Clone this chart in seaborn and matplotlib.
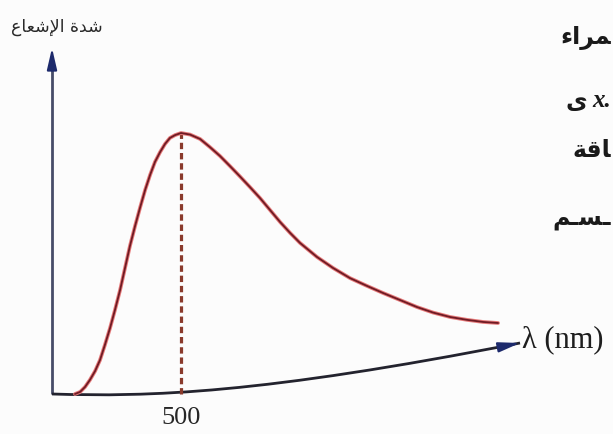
import numpy as np
import pandas as pd
import seaborn as sns
import matplotlib
matplotlib.use("Agg")
import matplotlib.pyplot as plt
import matplotlib.patheffects as pe
from matplotlib.path import Path
from matplotlib.patches import PathPatch

# Spectral intensity of the emitted radiation (wavelength in nm, relative intensity)
wavelength_nm = [89, 109, 128, 147, 167, 186, 205, 225, 244, 264, 283, 302, 322, 341,
                 361, 380, 399, 419, 438, 457, 477, 500,
                 535, 574, 612, 651, 690, 729, 767, 806, 845, 884, 923, 961,
                 1027, 1089, 1155, 1221, 1283, 1349, 1415, 1477, 1543, 1609, 1671, 1729]
intensity = [0.0, 0.008, 0.027, 0.054, 0.088, 0.130, 0.188, 0.253, 0.322, 0.399, 0.483,
             0.567, 0.644, 0.713, 0.782, 0.839, 0.889, 0.927, 0.958, 0.981, 0.992, 1.0,
             0.994, 0.977, 0.946, 0.912, 0.873, 0.833, 0.793, 0.751, 0.705, 0.659, 0.617,
             0.579, 0.525, 0.483, 0.444, 0.414, 0.387, 0.360, 0.333, 0.312, 0.295, 0.284,
             0.276, 0.272]

peak_nm = 500
peak_intensity = 1.0

y_label = "ﻉﺎﻌﺷﻹﺍ ﺓﺪﺷ"          # شدة الإشعاع
x_label = "λ (nm)"
side_lines = ["ﺀﺍﺮﻤ", "ﻯ", "ﺔﻗﺎ", "ﻢـﺴـ"]

sns.set_theme(style="white")
plt.rcParams["font.family"] = ["DejaVu Sans"]

fig = plt.figure(figsize=(6.13, 4.34), dpi=100)
fig.patch.set_facecolor("#fcfcfc")
ax = fig.add_axes([0, 0, 1, 1])
ax.set_facecolor("#fcfcfc")
ax.set_xlim(-201.6, 2174.4)
ax.set_ylim(-0.1533, 1.5096)
ax.axis("off")

df = pd.DataFrame({"wavelength": wavelength_nm, "intensity": intensity})

# vertical (intensity) axis
navy = "#1d2a6c"
ax.plot([0, 0], [0, 1.26], color="#474c68", lw=2.0, solid_capstyle="butt", zorder=2)
ax.annotate("", xy=(0, 1.326), xytext=(0, 1.24),
            arrowprops=dict(arrowstyle="-|>,head_length=1.3,head_width=0.3",
                            color=navy, lw=1.5, mutation_scale=10, shrinkA=0, shrinkB=0),
            zorder=3)

# curved wavelength axis drawn as a cubic Bezier
bez = np.array([[0.0, 0.0], [379.8, -0.0115], [806.2, 0.0], [1814.0, 0.1954]])
axis_path = Path(bez, [Path.MOVETO, Path.CURVE4, Path.CURVE4, Path.CURVE4])
ax.add_patch(PathPatch(axis_path, fill=False, edgecolor="#23232e", lw=2.0, zorder=2))


def bezier_point(t):
    c = [(1 - t) ** 3, 3 * (1 - t) ** 2 * t, 3 * (1 - t) * t ** 2, t ** 3]
    return sum(ci * p for ci, p in zip(c, bez))


head_base = bezier_point(0.975)
ax.annotate("", xy=tuple(bez[-1]), xytext=tuple(head_base),
            arrowprops=dict(arrowstyle="-|>,head_length=1.3,head_width=0.3",
                            color=navy, lw=1.5, mutation_scale=10, shrinkA=0, shrinkB=0),
            zorder=3)

# intensity curve
sns.lineplot(data=df, x="wavelength", y="intensity", ax=ax, color="#6f1b24",
             lw=1.3, sort=False, zorder=4)
line = ax.lines[-1]
line.set_path_effects([pe.Stroke(linewidth=2.7, foreground="#e67a7a"), pe.Normal()])
line.set_solid_capstyle("round")
line.set_solid_joinstyle("round")

# peak marker
ax.vlines(peak_nm, 0, peak_intensity, colors="#8a3a2c", linestyles=(0, (2.0, 1.2)),
          lw=2.3, zorder=3)

# labels
ax.text(peak_nm, -0.092, str(peak_nm), ha="center", va="center", fontsize=19,
        family="Liberation Serif", color="#262626")
ax.text(1822, 0.207, x_label, ha="left", va="center", fontsize=22,
        family="Liberation Serif", color="#1e1e1e")
ax.text(-160, 1.406, y_label, ha="left", va="center", fontsize=12.5,
        family="DejaVu Sans", color="#2a2a2a")

side_y = [0.913, 0.768, 0.654, 0.497]
for txt, yy in zip(side_lines, side_y):
    xx = 0.958 if txt == "ﻯ" else 0.997
    ax.text(xx, yy, txt, transform=ax.transAxes, ha="right", va="center",
            fontsize=17, fontweight="bold", family="DejaVu Sans", color="#1a1a1a")
ax.text(0.966, side_y[1], "x.", transform=ax.transAxes, ha="left", va="center",
        fontsize=18, fontweight="bold", style="italic", family="Liberation Serif",
        color="#1a1a1a")

fig.savefig("out.png", dpi=100, facecolor=fig.get_facecolor())
